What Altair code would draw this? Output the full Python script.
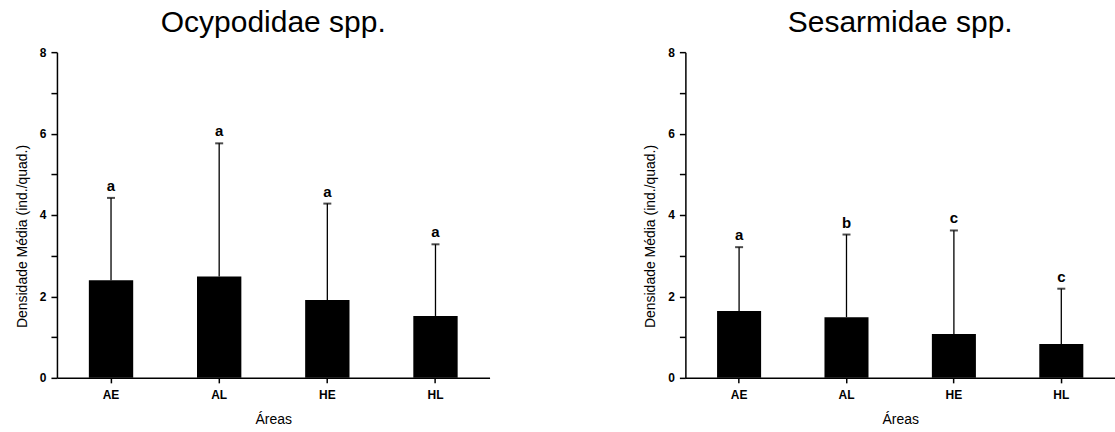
import altair as alt
import pandas as pd

# Mean density per area (individuals per quadrat) with standard deviation
areas = ["AE", "AL", "HE", "HL"]

ocypodidae_mean = [2.40, 2.49, 1.91, 1.52]
ocypodidae_sd = [2.02, 3.27, 2.37, 1.76]
ocypodidae_letters = ["a", "a", "a", "a"]

sesarmidae_mean = [1.64, 1.49, 1.08, 0.83]
sesarmidae_sd = [1.57, 2.03, 2.54, 1.36]
sesarmidae_letters = ["a", "b", "c", "c"]

FONT = "Liberation Sans"


def panel(title, means, sds, letters, width):
    df = pd.DataFrame({"area": areas, "mean": means, "sd": sds, "letter": letters})
    base = alt.Chart(df).transform_calculate(upper="datum.mean + datum.sd")

    x = alt.X(
        "area:N",
        sort=areas,
        title="Áreas",
        scale=alt.Scale(paddingInner=0.59, paddingOuter=0.295),
        axis=alt.Axis(labelAngle=0, labelPadding=7, titlePadding=12),
    )
    y = alt.Y(
        "mean:Q",
        title="Densidade Média (ind./quad.)",
        scale=alt.Scale(domain=[0, 8], nice=False, zero=True),
        axis=alt.Axis(
            values=list(range(9)),
            labelExpr="datum.value % 2 == 0 ? datum.label : ''",
            tickSize=6,
            labelPadding=5,
            titlePadding=10,
            titleY=184,
        ),
    )

    bars = base.mark_bar(color="black").encode(x=x, y=y)
    whisker = base.mark_rule(color="black", strokeWidth=1.3).encode(
        x=alt.X("area:N", sort=areas), y="mean:Q", y2="upper:Q"
    )
    cap = base.mark_tick(color="black", thickness=2, size=8).encode(
        x=alt.X("area:N", sort=areas), y="upper:Q"
    )
    letter = base.mark_text(
        font=FONT, fontSize=15, fontWeight="bold", color="black",
        baseline="alphabetic", dy=-7,
    ).encode(x=alt.X("area:N", sort=areas), y="upper:Q", text="letter:N")

    return alt.layer(bars, whisker, cap, letter).properties(
        width=width,
        height=326,
        title=alt.TitleParams(
            title, font=FONT, fontSize=30, fontWeight="normal",
            color="black", anchor="middle", offset=8,
        ),
    )


left = panel("Ocypodidae spp.", ocypodidae_mean, ocypodidae_sd, ocypodidae_letters, 433)
right = panel("Sesarmidae spp.", sesarmidae_mean, sesarmidae_sd, sesarmidae_letters, 430)

chart = (
    alt.hconcat(left, right, spacing=154)
    .properties(padding={"left": 15, "top": 8, "right": 0, "bottom": 0}, background="white")
    .configure_view(stroke=None)
    .configure_axis(
        grid=False,
        domainColor="black",
        domainWidth=1.5,
        tickColor="black",
        tickWidth=1.5,
        tickSize=5,
        labelFont=FONT,
        labelFontSize=12,
        labelFontWeight="bold",
        labelColor="black",
        titleFont=FONT,
        titleFontSize=14,
        titleFontWeight="normal",
        titleColor="black",
    )
)

chart.save("out.html", embed_options={"renderer": "svg", "actions": False})
